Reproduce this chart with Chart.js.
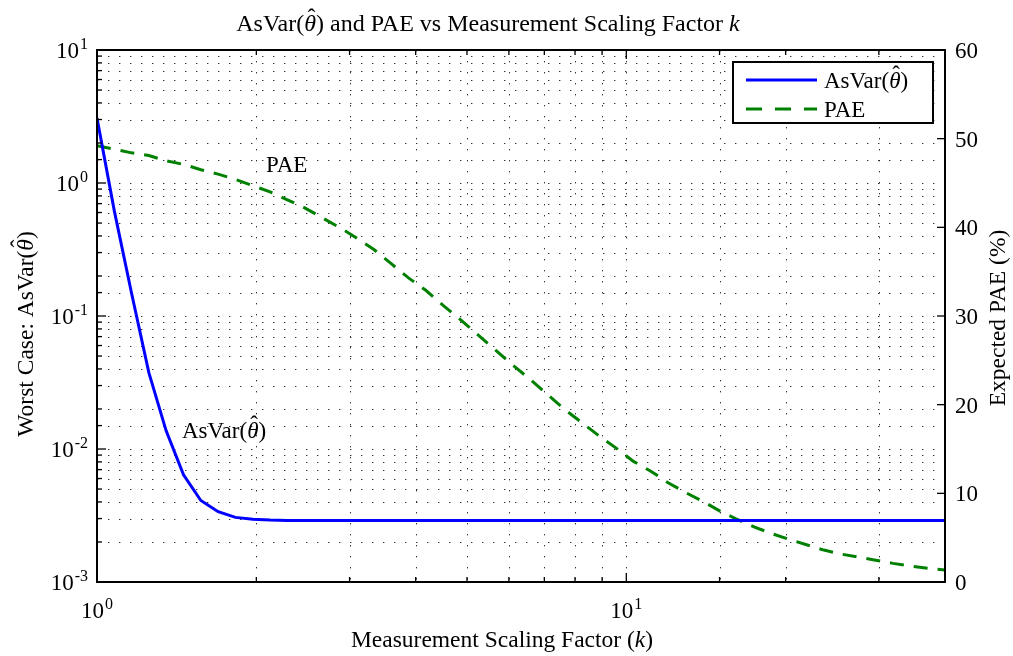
<!DOCTYPE html>
<html>
<head>
<meta charset="utf-8">
<script src="https://cdn.jsdelivr.net/npm/chart.js@4.4.4/dist/chart.umd.min.js"></script>
<style>
  html, body { margin: 0; padding: 0; background: #fff; }
  #wrap { width: 1013px; height: 656px; }
</style>
</head>
<body>
<div id="wrap"><canvas id="chart" width="1013" height="656"></canvas></div>
<script>
// measurement scaling factor k (50 log-spaced samples from 1 to 40)
const kValues = [
  1.000, 1.078, 1.162, 1.253, 1.351, 1.457, 1.571, 1.694, 1.826, 1.969,
  2.123, 2.289, 2.468, 2.661, 2.869, 3.093, 3.335, 3.596, 3.877, 4.180,
  4.507, 4.859, 5.239, 5.649, 6.091, 6.567, 7.080, 7.634, 8.231, 8.874,
  9.568, 10.316, 11.123, 11.993, 12.930, 13.941, 15.031, 16.207, 17.474, 18.840,
  20.313, 21.901, 23.614, 25.460, 27.451, 29.597, 31.911, 34.406, 37.096, 40.000,
];

// worst case AsVar(theta hat), left log axis
const asVarValues = [
  3.08, 0.62, 0.149, 0.0375, 0.0137, 0.0064, 0.0041, 0.00338, 0.00306, 0.00296,
  0.00292, 0.0029, 0.0029, 0.0029, 0.0029, 0.0029, 0.0029, 0.0029, 0.0029, 0.0029,
  0.0029, 0.0029, 0.0029, 0.0029, 0.0029, 0.0029, 0.0029, 0.0029, 0.0029, 0.0029,
  0.0029, 0.0029, 0.0029, 0.0029, 0.0029, 0.0029, 0.0029, 0.0029, 0.0029, 0.0029,
  0.0029, 0.0029, 0.0029, 0.0029, 0.0029, 0.0029, 0.0029, 0.0029, 0.0029, 0.0029,
];

// expected PAE in %, right linear axis
const paeValues = [
  49.2, 48.8, 48.4, 48.1, 47.5, 47.1, 46.5, 46.0, 45.4, 44.7,
  44.0, 43.1, 42.2, 41.1, 40.0, 38.8, 37.5, 35.9, 34.3, 32.9,
  31.2, 29.6, 27.9, 26.2, 24.5, 22.9, 21.2, 19.5, 18.0, 16.5,
  15.1, 13.6, 12.5, 11.2, 10.1, 9.1, 8.0, 7.05, 6.2, 5.45,
  4.8, 4.2, 3.6, 3.15, 2.8, 2.45, 2.1, 1.8, 1.55, 1.35,
];

const rightTicks = [0, 10, 20, 30, 40, 50, 60];

const SERIF = '"Liberation Serif", "DejaVu Serif", serif';
const BLUE = '#0000ff';
const GREEN = '#008000';
const DASH = [14, 10];
const LEGEND_DASH = [16, 13];
const LABEL_SIZE = 23.5;

const isDecade = (v) => Math.abs(Math.log10(v) - Math.round(Math.log10(v))) < 1e-6;

// draws text made of plain / italic parts; a part with hat gets a circumflex on top
function drawRich(ctx, parts, x, y, size, align) {
  const fonts = parts.map((p) => `${p.i ? 'italic ' : ''}${size}px ${SERIF}`);
  const widths = parts.map((p, n) => { ctx.font = fonts[n]; return ctx.measureText(p.t).width; });
  const total = widths.reduce((s, w) => s + w, 0);
  let cx = align === 'center' ? x - total / 2 : align === 'right' ? x - total : x;
  ctx.textAlign = 'left';
  parts.forEach((p, n) => {
    ctx.font = fonts[n];
    ctx.fillText(p.t, cx, y);
    if (p.hat) {
      ctx.font = `${size}px ${SERIF}`;
      ctx.textAlign = 'center';
      ctx.fillText('\u02C6', cx + widths[n] / 2 + size * 0.06, y - size * 0.27);
      ctx.textAlign = 'left';
    }
    cx += widths[n];
  });
  return total;
}

function drawPow(ctx, exp, x, y, align) {
  ctx.font = `23px ${SERIF}`;
  const wBase = ctx.measureText('10').width;
  ctx.font = `16px ${SERIF}`;
  const wExp = ctx.measureText(String(exp)).width;
  const total = wBase + wExp + 1;
  const left = align === 'center' ? x - total / 2 : x - total;
  ctx.textAlign = 'left';
  ctx.font = `23px ${SERIF}`;
  ctx.fillText('10', left, y);
  ctx.font = `16px ${SERIF}`;
  ctx.fillText(String(exp), left + wBase + 1, y - 9);
}

function seg(ctx, x1, y1, x2, y2) {
  ctx.beginPath();
  ctx.moveTo(x1, y1);
  ctx.lineTo(x2, y2);
  ctx.stroke();
}

const asVarLabel = [{ t: 'AsVar(' }, { t: '\u03B8', i: true, hat: true }, { t: ')' }];

const decor = {
  id: 'decor',
  beforeDatasetsDraw(chart) {
    const { ctx, chartArea: a, scales: { x, y } } = chart;
    ctx.save();
    ctx.strokeStyle = '#333';
    ctx.lineWidth = 1;
    ctx.setLineDash([1.4, 9.6]);
    x.ticks.forEach((t) => {
      const px = Math.round(x.getPixelForValue(t.value)) + 0.5;
      if (px > a.left + 1 && px < a.right - 1) seg(ctx, px, a.top, px, a.bottom);
    });
    y.ticks.forEach((t) => {
      const py = Math.round(y.getPixelForValue(t.value)) + 0.5;
      if (py > a.top + 1 && py < a.bottom - 1) seg(ctx, a.left, py, a.right, py);
    });
    ctx.restore();
  },
  afterDraw(chart) {
    const { ctx, chartArea: a, scales: { x, y, y1 } } = chart;
    ctx.save();
    ctx.fillStyle = '#000';
    ctx.strokeStyle = '#000';
    ctx.setLineDash([]);

    // axes box
    ctx.lineWidth = 2;
    ctx.strokeRect(a.left, a.top, a.right - a.left, a.bottom - a.top);

    // inward tick marks
    ctx.lineWidth = 1.3;
    x.ticks.forEach((t) => {
      const px = x.getPixelForValue(t.value);
      const len = isDecade(t.value) ? 9 : 5;
      seg(ctx, px, a.bottom, px, a.bottom - len);
      seg(ctx, px, a.top, px, a.top + len);
    });
    y.ticks.forEach((t) => {
      const py = y.getPixelForValue(t.value);
      const len = isDecade(t.value) ? 9 : 5;
      seg(ctx, a.left, py, a.left + len, py);
    });
    rightTicks.forEach((v) => {
      const py = y1.getPixelForValue(v);
      seg(ctx, a.right, py, a.right - 8, py);
    });

    // tick labels
    ctx.textBaseline = 'alphabetic';
    y.ticks.filter((t) => isDecade(t.value)).forEach((t) => {
      drawPow(ctx, Math.round(Math.log10(t.value)), 88, y.getPixelForValue(t.value) + 8, 'right');
    });
    x.ticks.filter((t) => isDecade(t.value)).forEach((t) => {
      drawPow(ctx, Math.round(Math.log10(t.value)), x.getPixelForValue(t.value), 618, 'center');
    });
    ctx.font = `23px ${SERIF}`;
    ctx.textAlign = 'left';
    rightTicks.forEach((v) => {
      ctx.fillText(String(v), 955, y1.getPixelForValue(v) + 8);
    });

    // title and axis labels
    drawRich(ctx, [
      { t: 'AsVar(' }, { t: '\u03B8', i: true, hat: true },
      { t: ') and PAE vs Measurement Scaling Factor ' }, { t: 'k', i: true },
    ], 488, 31, 24, 'center');
    drawRich(ctx, [{ t: 'Measurement Scaling Factor (' }, { t: 'k', i: true }, { t: ')' }], 502, 647, LABEL_SIZE, 'center');

    ctx.save();
    ctx.translate(33, 334);
    ctx.rotate(-Math.PI / 2);
    drawRich(ctx, [{ t: 'Worst Case: ' }].concat(asVarLabel), 0, 0, LABEL_SIZE, 'center');
    ctx.restore();

    ctx.save();
    ctx.translate(1005, 318);
    ctx.rotate(-Math.PI / 2);
    drawRich(ctx, [{ t: 'Expected PAE (%)' }], 0, 0, LABEL_SIZE, 'center');
    ctx.restore();

    // in-plot annotations
    drawRich(ctx, [{ t: 'PAE' }], 266, 172, 23, 'left');
    drawRich(ctx, asVarLabel, 182, 438, 23, 'left');

    // legend
    const lx = 733, ly = 62, lw = 200, lh = 61;
    ctx.fillStyle = '#fff';
    ctx.fillRect(lx, ly, lw, lh);
    ctx.lineWidth = 2;
    ctx.strokeStyle = '#000';
    ctx.strokeRect(lx, ly, lw, lh);
    chart.data.datasets.forEach((ds, n) => {
      const rowY = ly + 18 + n * 29;
      ctx.strokeStyle = ds.borderColor;
      ctx.lineWidth = 3;
      ctx.setLineDash(ds.borderDash ? LEGEND_DASH : []);
      seg(ctx, lx + 13, rowY, lx + 84, rowY);
      ctx.setLineDash([]);
      ctx.fillStyle = '#000';
      drawRich(ctx, n === 0 ? asVarLabel : [{ t: ds.label }], lx + 91, rowY + 8, 23, 'left');
    });
    ctx.restore();
  },
};

new Chart(document.getElementById('chart'), {
  type: 'line',
  data: {
    datasets: [
      {
        label: 'AsVar',
        data: kValues.map((k, i) => ({ x: k, y: asVarValues[i] })),
        borderColor: BLUE,
        borderWidth: 3,
        pointRadius: 0,
        tension: 0,
        yAxisID: 'y',
      },
      {
        label: 'PAE',
        data: kValues.map((k, i) => ({ x: k, y: paeValues[i] })),
        borderColor: GREEN,
        borderWidth: 3,
        borderDash: DASH,
        borderCapStyle: 'butt',
        pointRadius: 0,
        tension: 0,
        yAxisID: 'y1',
      },
    ],
  },
  options: {
    responsive: false,
    animation: false,
    devicePixelRatio: 1,
    layout: { padding: { left: 97, right: 68, top: 50, bottom: 74 } },
    plugins: { legend: { display: false }, tooltip: { enabled: false }, title: { display: false } },
    scales: {
      x: {
        type: 'logarithmic', min: 1, max: 40,
        grid: { display: false, drawTicks: false }, border: { display: false },
        ticks: { display: false, autoSkip: false },
      },
      y: {
        type: 'logarithmic', position: 'left', min: 0.001, max: 10,
        grid: { display: false, drawTicks: false }, border: { display: false },
        ticks: { display: false, autoSkip: false },
      },
      y1: {
        type: 'linear', position: 'right', min: 0, max: 60,
        grid: { display: false, drawTicks: false }, border: { display: false },
        ticks: { display: false, stepSize: 10 },
      },
    },
  },
  plugins: [decor],
});
</script>
</body>
</html>
